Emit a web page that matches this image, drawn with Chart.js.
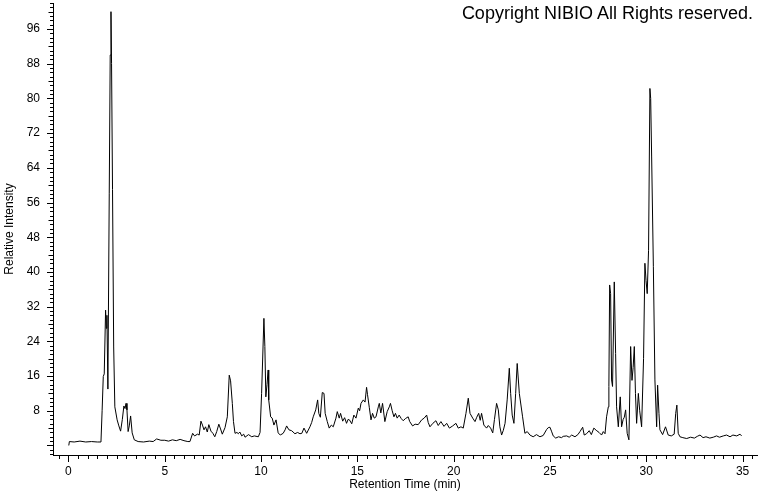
<!DOCTYPE html>
<html>
<head>
<meta charset="utf-8">
<script src="https://cdn.jsdelivr.net/npm/chart.js@4"></script>
<style>
  html, body { margin: 0; padding: 0; background: #fff; }
  #wrap { position: relative; width: 760px; height: 492px; }
  #copy { position: absolute; top: 3px; right: 7px; font: 18px "Liberation Sans", Arial, sans-serif; color: #000; }
</style>
</head>
<body>
<div id="wrap">
  <canvas id="myChartLC" width="760" height="492"></canvas>
  <div id="copy">Copyright NIBIO All Rights reserved.</div>
</div>
<script>
// retention time (min)
const tiempos = [
  0.02, 0.05, 0.3, 0.6, 0.9, 1.2, 1.5, 1.69, 1.75, 1.81, 1.86, 1.93, 1.97, 2.0, 2.05,
  2.12, 2.17, 2.21, 2.24, 2.29, 2.35, 2.41, 2.53, 2.62, 2.71, 2.8, 2.88, 2.94, 2.99, 3.04,
  3.1, 3.16, 3.23, 3.31, 3.42, 3.62, 3.9, 4.2, 4.4, 4.58, 4.8, 5.0, 5.2, 5.4, 5.6,
  5.8, 6.0, 6.2, 6.31, 6.45, 6.55, 6.7, 6.79, 6.88, 6.96, 7.04, 7.12, 7.21, 7.29, 7.4,
  7.5, 7.6, 7.7, 7.81, 7.9, 7.99, 8.13, 8.25, 8.35, 8.42, 8.51, 8.57, 8.65, 8.75, 8.82,
  8.9, 9.0, 9.1, 9.17, 9.35, 9.52, 9.65, 9.86, 9.95, 10.03, 10.15, 10.2, 10.25, 10.31, 10.37,
  10.4, 10.5, 10.58, 10.67, 10.78, 10.89, 11.0, 11.15, 11.25, 11.33, 11.45, 11.59, 11.76, 11.9, 12.02,
  12.12, 12.23, 12.37, 12.54, 12.63, 12.71, 12.84, 12.94, 13.0, 13.08, 13.18, 13.27, 13.33, 13.44, 13.54,
  13.65, 13.75, 13.89, 13.96, 14.06, 14.13, 14.24, 14.34, 14.44, 14.52, 14.59, 14.71, 14.82, 14.93, 15.05,
  15.12, 15.19, 15.31, 15.4, 15.48, 15.53, 15.62, 15.71, 15.79, 15.88, 15.97, 16.09, 16.14, 16.22, 16.31,
  16.43, 16.55, 16.66, 16.72, 16.81, 16.9, 16.98, 17.07, 17.17, 17.28, 17.38, 17.5, 17.64, 17.72, 17.87,
  18.0, 18.16, 18.34, 18.47, 18.6, 18.68, 18.77, 18.92, 19.08, 19.2, 19.34, 19.5, 19.64, 19.78, 19.95,
  20.12, 20.24, 20.38, 20.5, 20.64, 20.76, 20.85, 20.99, 21.11, 21.2, 21.3, 21.38, 21.45, 21.57, 21.71,
  21.8, 21.92, 22.03, 22.12, 22.23, 22.32, 22.4, 22.49, 22.58, 22.67, 22.78, 22.89, 22.96, 23.04, 23.13,
  23.22, 23.3, 23.41, 23.58, 23.7, 23.82, 23.96, 24.13, 24.3, 24.48, 24.65, 24.83, 24.91, 25.0, 25.08,
  25.17, 25.3, 25.45, 25.6, 25.69, 25.87, 26.0, 26.13, 26.3, 26.45, 26.56, 26.7, 26.78, 26.9, 27.04,
  27.15, 27.28, 27.4, 27.55, 27.68, 27.77, 27.86, 27.94, 28.03, 28.06, 28.1, 28.15, 28.2, 28.25, 28.34,
  28.41, 28.46, 28.55, 28.65, 28.72, 28.8, 28.86, 28.93, 29.01, 29.1, 29.19, 29.26, 29.32, 29.38, 29.44,
  29.5, 29.59, 29.66, 29.76, 29.86, 29.93, 29.99, 30.05, 30.12, 30.19, 30.23, 30.28, 30.37, 30.45, 30.54,
  30.59, 30.66, 30.71, 30.85, 31.0, 31.14, 31.3, 31.45, 31.53, 31.59, 31.66, 31.75, 31.9, 32.1, 32.3,
  32.5, 32.65, 32.79, 32.95, 33.1, 33.3, 33.48, 33.65, 33.8, 34.0, 34.17, 34.35, 34.5, 34.7, 34.87,
  34.95
];
// relative intensity
const intensidad = [
  0, 0.9, 0.8, 1.0, 0.8, 0.9, 0.8, 0.8, 8, 15.9, 16.5, 31.2, 27, 30, 13,
  58, 90, 100, 88, 59, 22.7, 8.9, 5.9, 4.5, 3.3, 6, 9.1, 8.5, 9.7, 8.2,
  3.2, 4.5, 6.8, 2.9, 1.3, 0.9, 0.8, 1.0, 0.9, 1.5, 1.2, 1.2, 1.0, 1.3, 1.1,
  1.4, 1.1, 0.9, 0.9, 2.8, 2.2, 2.6, 2.4, 5.6, 4.7, 3.6, 4.3, 3.1, 4.8, 3.3,
  2.8, 2.0, 3.2, 4.9, 3.8, 2.6, 4.1, 6.6, 16.2, 14.9, 9.7, 5.5, 2.8, 3.0, 2.7,
  3.1, 2.2, 2.6, 1.9, 2.5, 2.0, 2.2, 2.0, 3, 12, 29.3, 22.8, 11.2, 14, 17.4,
  10.5, 6.6, 6.3, 4.7, 5.9, 2.9, 2.4, 2.8, 3.6, 4.5, 3.6, 3.4, 2.7, 3.0, 2.7,
  2.8, 4.0, 2.8, 4.3, 5.3, 6.6, 8.2, 10.5, 7.4, 6.5, 12.2, 12.0, 7.4, 5.5, 4.0,
  4.7, 4.3, 6.3, 7.8, 6.3, 7.4, 5.6, 6.4, 5.1, 6.0, 5.9, 5.0, 7.0, 6.3, 8.6,
  8.0, 9.7, 10.5, 10.0, 13.4, 11.7, 8.8, 5.9, 7.4, 6.3, 6.6, 8.9, 9.7, 7.5, 9.7,
  5.5, 7.8, 8.9, 9.7, 8.0, 6.6, 7.4, 6.3, 7.0, 6.2, 5.7, 6.2, 6.6, 5.5, 4.5,
  4.9, 4.8, 5.9, 6.3, 7.0, 5.3, 4.3, 5.1, 5.7, 4.6, 5.5, 4.4, 5.1, 4.0, 4.5,
  5.1, 4.0, 4.3, 4.0, 7.4, 10.9, 7.4, 6.3, 5.5, 6.5, 7.4, 5.8, 7.4, 4.7, 4.0,
  4.6, 4.0, 2.9, 6.0, 9.7, 8.2, 4.3, 2.4, 3.5, 5.1, 10.5, 17.8, 12, 7, 5.1,
  12, 18.9, 12.0, 6.6, 2.8, 3.2, 2.4, 2.0, 2.5, 2.0, 2.3, 3.7, 4.1, 4.2, 3.3,
  2.2, 1.7, 2.0, 1.8, 2.1, 2.2, 1.9, 2.4, 2.0, 2.5, 3.2, 4.2, 2.4, 2.7, 3.4,
  2.5, 4.0, 3.5, 3.0, 2.4, 3.2, 2.7, 6.6, 8.9, 13.6, 37.0, 35, 15.1, 13.6, 37.7,
  21.2, 8.9, 4.3, 11.2, 4.3, 6, 6.5, 8.2, 2.8, 1.3, 22.8, 15, 18, 22.8, 12,
  5.1, 12.0, 8, 4.3, 20, 42, 38, 35, 45, 82.3, 80, 66.5, 41.2, 15.1, 4.3,
  13.9, 7.4, 3.6, 2.5, 4.3, 2.4, 2.2, 2.6, 7.4, 9.3, 2.8, 2.0, 1.8, 1.6, 1.9,
  1.7, 2.1, 2.4, 1.8, 2.0, 1.7, 1.9, 2.2, 1.9, 2.2, 2.4, 2.0, 2.4, 2.2, 2.6,
  2.2
];
const ticksY = [8, 16, 24, 32, 40, 48, 56, 64, 72, 80, 88, 96];
const ticksX = [0, 5, 10, 15, 20, 25, 30, 35];

const fuente = { family: "'Liberation Sans', Arial, sans-serif", size: 12 };

// tick marks drawn along the axes (major / minor)
const marcasEje = {
    id: 'marcasEje',
    afterDraw(chart) {
        const ctx = chart.ctx;
        const area = chart.chartArea;
        const sx = chart.scales.x, sy = chart.scales.y;
        ctx.save();
        ctx.strokeStyle = '#000';
        ctx.lineWidth = 1;
        ctx.beginPath();
        for (let v = Math.ceil(sy.min); v <= sy.max; v++) {
            const y = Math.round(sy.getPixelForValue(v)) + 0.5;
            const len = v % 8 === 0 ? 6 : (v % 4 === 0 ? 4.5 : 3);
            ctx.moveTo(area.left - len, y);
            ctx.lineTo(area.left, y);
        }
        for (let i = Math.ceil(sx.min * 2); i <= sx.max * 2; i++) {
            const x = Math.round(sx.getPixelForValue(i / 2)) + 0.5;
            const len = i % 10 === 0 ? 7 : 4;
            ctx.moveTo(x, area.bottom);
            ctx.lineTo(x, area.bottom + len);
        }
        ctx.stroke();
        ctx.restore();
    }
};

const puntos = tiempos.map((t, i) => ({ x: t, y: intensidad[i] }));

function sinPadding(s) {
    s.paddingTop = 0;
    s.paddingBottom = 0;
    s.paddingLeft = 0;
    s.paddingRight = 0;
}

const config = {
    type: 'line',
    data: {
        datasets: [{
            data: puntos,
            borderColor: '#000000',
            borderWidth: 1,
            pointRadius: 0,
            tension: 0,
            fill: false
        }]
    },
    options: {
        responsive: false,
        animation: false,
        layout: { padding: { top: 3, right: 3, left: 0, bottom: 0 } },
        plugins: {
            legend: { display: false },
            tooltip: { enabled: false }
        },
        scales: {
            x: {
                type: 'linear',
                min: -0.8,
                max: 35.75,
                afterBuildTicks: s => { s.ticks = ticksX.map(v => ({ value: v })); },
                afterFit: s => { s.height = 37; sinPadding(s); },
                grid: { display: false, drawTicks: false },
                border: { display: true, color: '#000', width: 1 },
                ticks: { color: '#000', font: fuente, padding: 9, maxRotation: 0 },
                title: { display: true, text: 'Retention Time (min)', color: '#000', font: fuente, padding: { top: 0, bottom: 0 } }
            },
            y: {
                type: 'linear',
                min: -2.2,
                max: 102,
                afterBuildTicks: s => { s.ticks = ticksY.map(v => ({ value: v })); },
                afterFit: s => { s.width = 53; sinPadding(s); },
                grid: { display: false, drawTicks: false },
                border: { display: true, color: '#000', width: 1 },
                ticks: { color: '#000', font: fuente, padding: 13 },
                title: { display: true, text: 'Relative Intensity', color: '#000', font: fuente, padding: { top: 2, bottom: 0 } }
            }
        }
    },
    plugins: [marcasEje]
};

const myChartLC = new Chart(document.getElementById('myChartLC'), config);
</script>
</body>
</html>
